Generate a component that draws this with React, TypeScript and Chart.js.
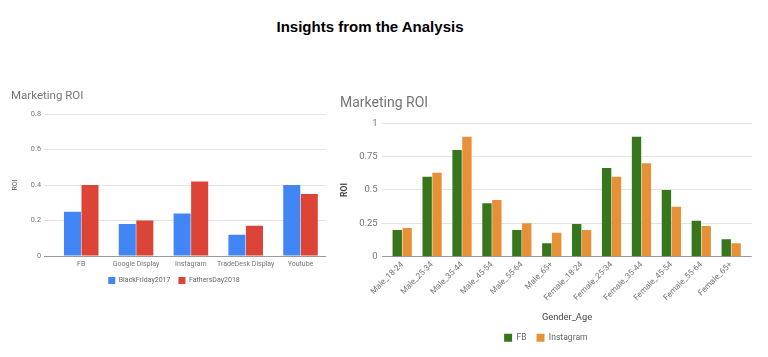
import React, { useEffect, useRef } from "react";
import { Chart, registerables } from "chart.js";

Chart.register(...registerables);

const mainTitle = "Insights from the Analysis";
const chartTitle = "Marketing ROI";

const channelLabels = ["FB", "Google Display", "Instagram", "TradeDesk Display", "Youtube"];
const blackFriday2017 = [0.25, 0.18, 0.24, 0.12, 0.4];
const fathersDay2018 = [0.4, 0.2, 0.42, 0.17, 0.35];
const leftTicks = [0, 0.2, 0.4, 0.6, 0.8];

const genderAgeLabels = [
  "Male_18-24", "Male_25-34", "Male_35-44", "Male_45-54", "Male_55-64", "Male_65+",
  "Female_18-24", "Female_25-34", "Female_35-44", "Female_45-54", "Female_55-64", "Female_65+",
];
const fbValues = [0.2, 0.6, 0.8, 0.4, 0.2, 0.1, 0.245, 0.665, 0.9, 0.5, 0.27, 0.13];
const instagramValues = [0.215, 0.63, 0.9, 0.425, 0.25, 0.18, 0.2, 0.6, 0.7, 0.375, 0.23, 0.1];
const rightTicks = [0, 0.25, 0.5, 0.75, 1];

const FONT = "Roboto, 'Noto Sans', sans-serif";
const gridColor = (ctx: any) => (ctx.tick && ctx.tick.value === 0 ? "#9a9a9a" : "#e3e3e3");

// extra room (in category units) left/right of the first/last category inside the plot area
const categoryMargins = (left: number, right: number) => (s: any) => {
  const n = s.getLabels().length;
  s._startValue = -0.5 - left;
  s._valueRange = n + left + right;
};

function LeftChart() {
  const ref = useRef<HTMLCanvasElement>(null);
  useEffect(() => {
    const chart = new Chart(ref.current!, {
      type: "bar",
      data: {
        labels: channelLabels,
        datasets: [
          { label: "BlackFriday2017", data: blackFriday2017, backgroundColor: "#4285F4", categoryPercentage: 0.64, barPercentage: 0.97 },
          { label: "FathersDay2018", data: fathersDay2018, backgroundColor: "#DB4437", categoryPercentage: 0.64, barPercentage: 0.97 },
        ],
      },
      options: {
        animation: false,
        responsive: false,
        layout: { padding: { left: 11, right: 3, top: 0, bottom: 0 } },
        plugins: {
          title: {
            display: true, text: chartTitle, align: "start", color: "#757575",
            font: { family: FONT, size: 11.5, weight: "normal" },
            padding: { top: 9, bottom: 11.4 },
          },
          legend: {
            position: "bottom",
            labels: { color: "#666", font: { family: FONT, size: 7 }, boxWidth: 7, boxHeight: 7, padding: 8 },
          },
          tooltip: { enabled: false },
        },
        scales: {
          x: {
            grid: { display: false, drawTicks: false },
            border: { display: false },
            ticks: { color: "#757575", font: { family: FONT, size: 7 }, padding: 4, maxRotation: 0, autoSkip: false },
            afterBuildTicks: categoryMargins(0.179, -0.035),
            afterFit: (s: any) => { s.height = 13; },
          },
          y: {
            min: 0, max: 0.8,
            afterBuildTicks: (s: any) => { s.ticks = leftTicks.map((v) => ({ value: v })); },
            grid: { color: gridColor, drawTicks: false },
            border: { display: false },
            ticks: { color: "#757575", font: { family: FONT, size: 7.3 }, padding: 3, callback: (v: any) => String(v) },
            title: { display: true, text: "ROI", color: "#555", font: { family: FONT, size: 7 }, padding: 0 },
            afterFit: (s: any) => { s.width = 33; },
          },
          spacer: {
            type: "linear", position: "right", display: true,
            grid: { display: false, drawTicks: false }, border: { display: false },
            ticks: { display: false },
            afterFit: (s: any) => { s.width = 11; },
          },
        },
      },
    });
    return () => chart.destroy();
  }, []);
  return <canvas ref={ref} width={340} height={214} style={{ position: "absolute", left: 0, top: 80 }} />;
}

function RightChart() {
  const ref = useRef<HTMLCanvasElement>(null);
  useEffect(() => {
    const chart = new Chart(ref.current!, {
      type: "bar",
      data: {
        labels: genderAgeLabels,
        datasets: [
          { label: "FB", data: fbValues, backgroundColor: "#38761D", categoryPercentage: 0.66, barPercentage: 0.95 },
          { label: "Instagram", data: instagramValues, backgroundColor: "#E69138", categoryPercentage: 0.66, barPercentage: 0.95 },
        ],
      },
      options: {
        animation: false,
        responsive: false,
        layout: { padding: { left: 10, right: 16.3, top: 0, bottom: 5 } },
        plugins: {
          title: {
            display: true, text: chartTitle, align: "start", color: "#757575",
            font: { family: FONT, size: 14, weight: "normal" },
            padding: { top: 9.6, bottom: 11.9 },
          },
          legend: {
            position: "bottom",
            labels: { color: "#666", font: { family: FONT, size: 8.6 }, boxWidth: 8, boxHeight: 8, padding: 10 },
          },
          tooltip: { enabled: false },
        },
        scales: {
          x: {
            grid: { display: false, drawTicks: false },
            border: { display: false },
            ticks: { color: "#757575", font: { family: FONT, size: 8.2 }, padding: 3, minRotation: 45, maxRotation: 45, autoSkip: false },
            title: { display: true, text: "Gender_Age", color: "#444", font: { family: FONT, size: 9.3 }, padding: { top: 0, bottom: 0 } },
            afterBuildTicks: categoryMargins(0.165, 0.186),
            afterFit: (s: any) => { s.height = 66.7; },
          },
          y: {
            min: 0, max: 1,
            afterBuildTicks: (s: any) => { s.ticks = rightTicks.map((v) => ({ value: v })); },
            grid: { color: gridColor, drawTicks: false },
            border: { display: false },
            ticks: { color: "#757575", font: { family: FONT, size: 9.5 }, padding: 4.6, callback: (v: any) => String(v) },
            title: { display: true, text: "ROI", color: "#444", font: { family: FONT, size: 8.5, weight: "bold" }, padding: 0 },
            afterFit: (s: any) => { s.width = 42.3; },
          },
        },
      },
    });
    return () => chart.destroy();
  }, []);
  return <canvas ref={ref} width={438} height={272} style={{ position: "absolute", left: 330, top: 85 }} />;
}

export default function App() {
  return (
    <div style={{ position: "fixed", left: 0, top: 0, width: 768, height: 357, background: "#fff", overflow: "hidden" }}>
      <div
        style={{
          position: "absolute", left: 0, top: 18, width: 740, textAlign: "center",
          fontFamily: "'Liberation Sans', Arial, sans-serif", fontWeight: "bold", fontSize: 15, color: "#000", lineHeight: "18px",
        }}
      >
        {mainTitle}
      </div>
      <LeftChart />
      <RightChart />
    </div>
  );
}
